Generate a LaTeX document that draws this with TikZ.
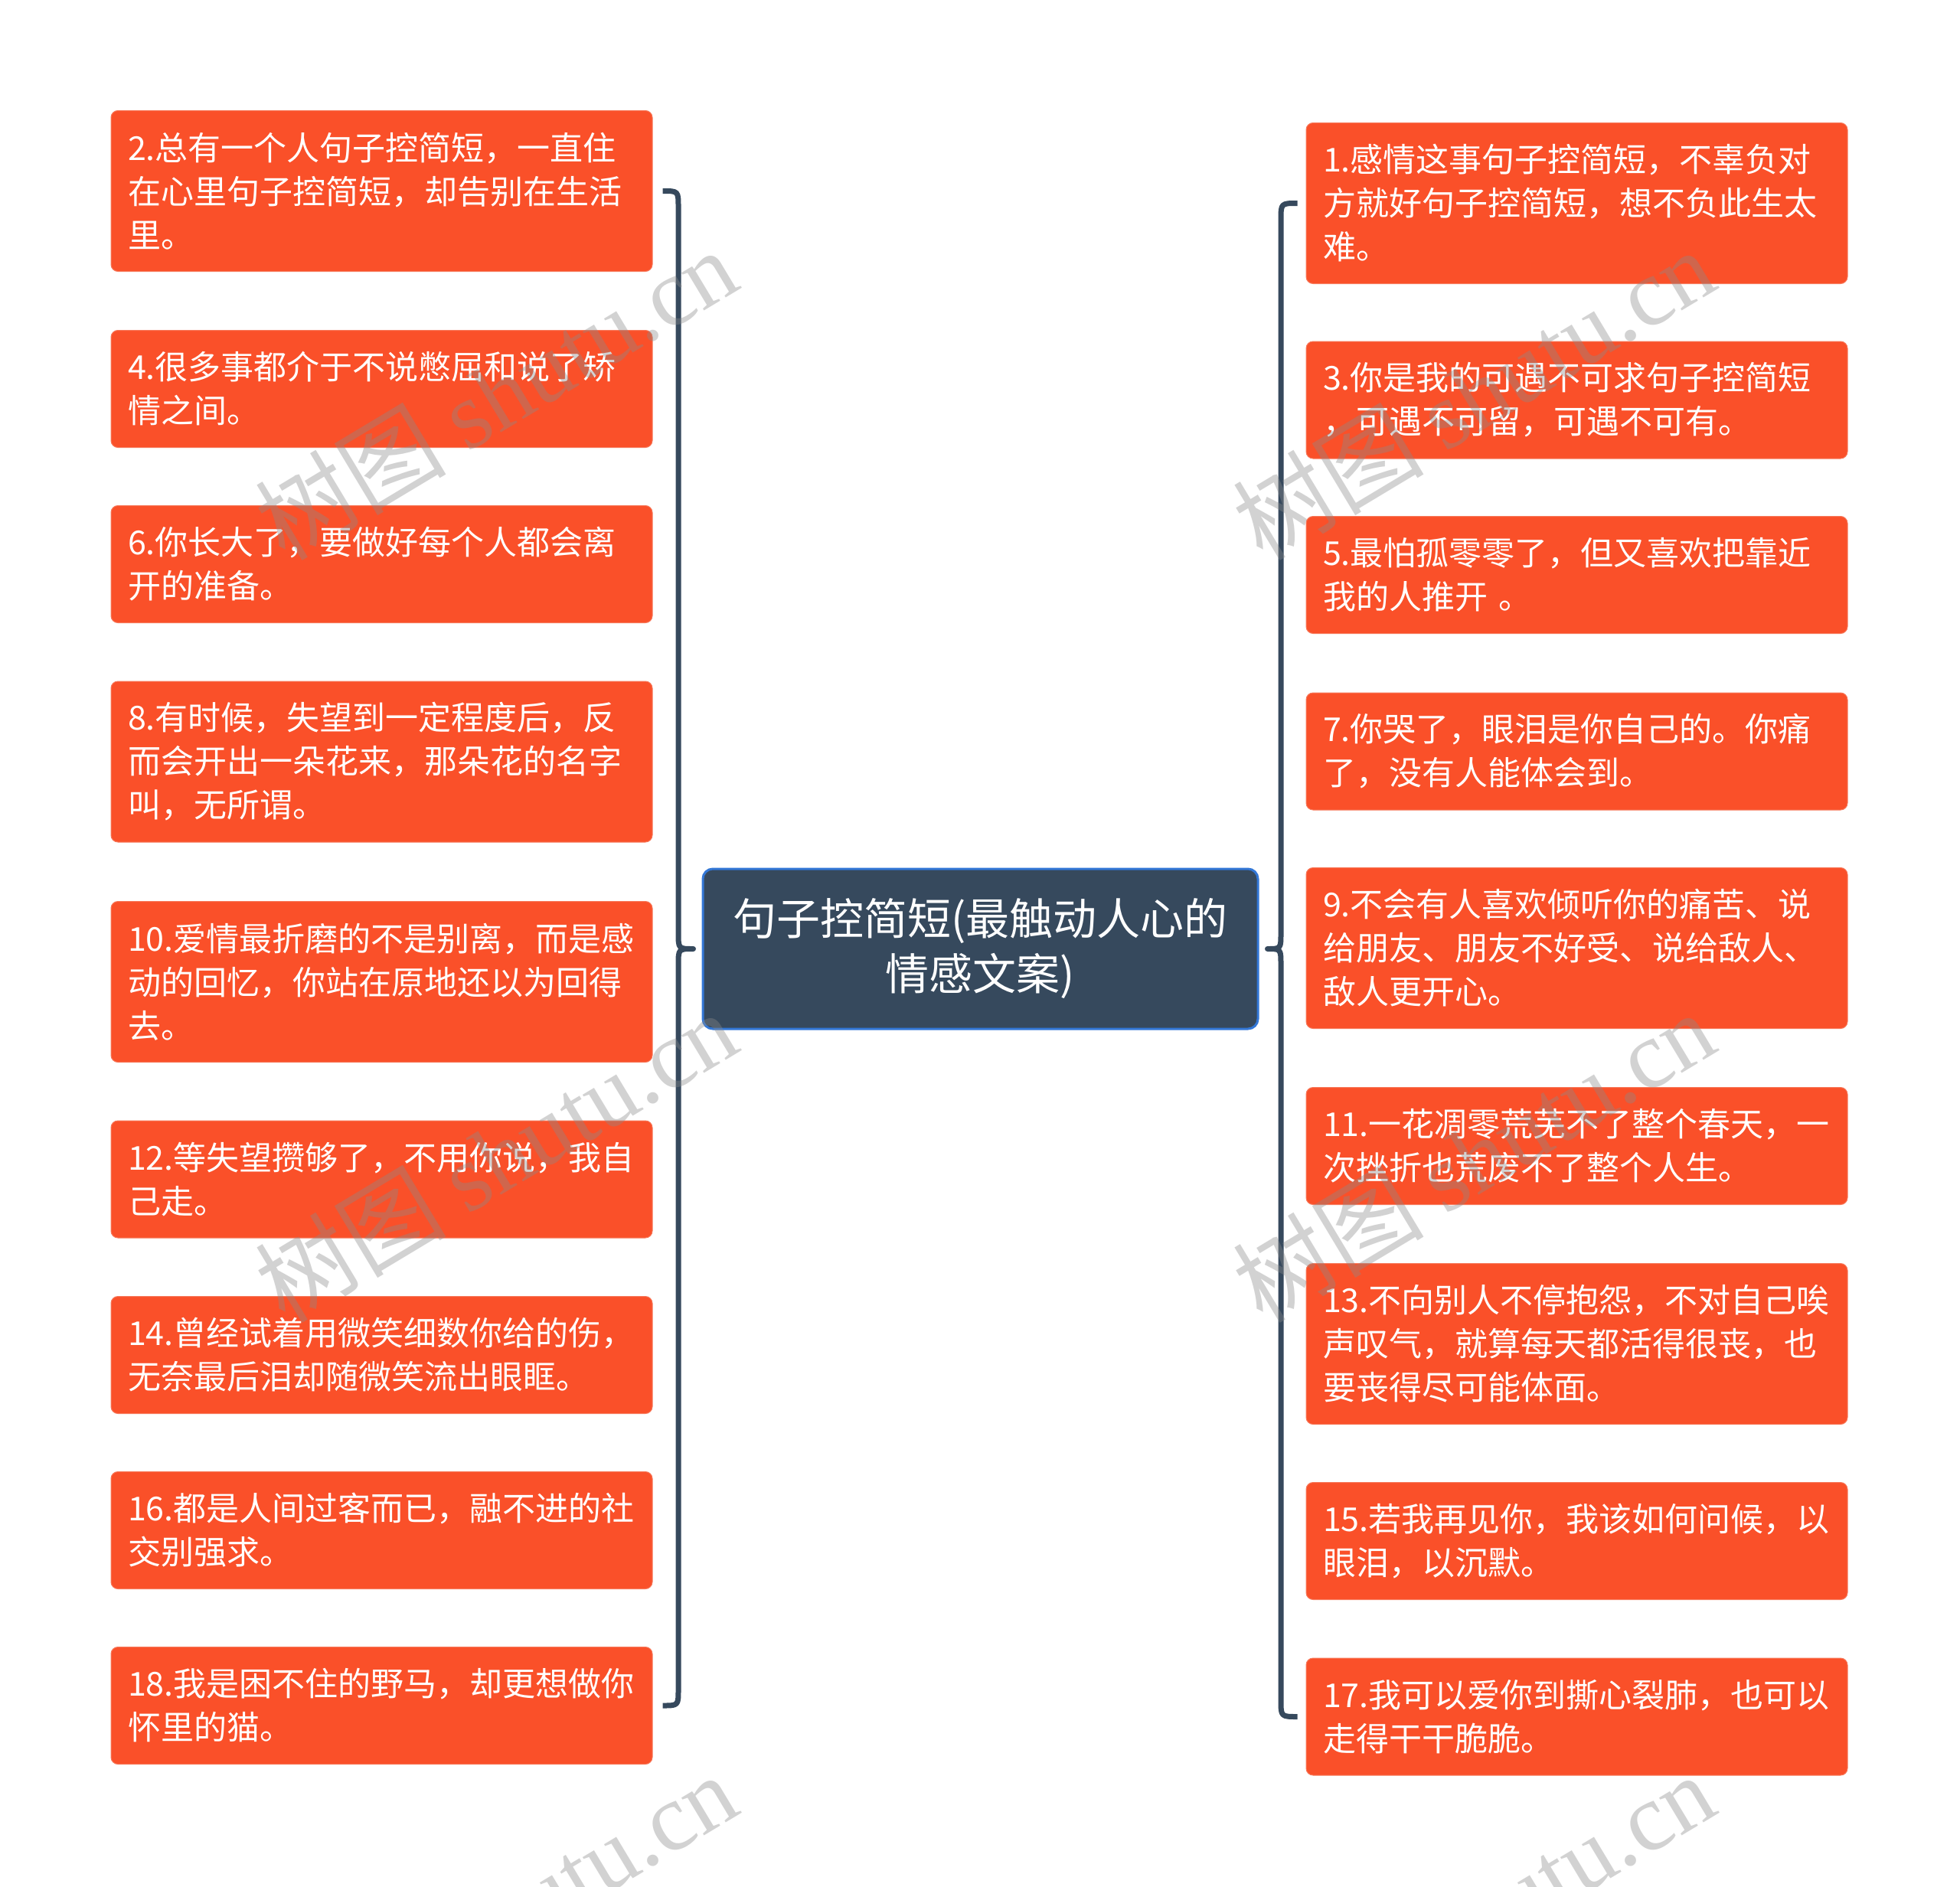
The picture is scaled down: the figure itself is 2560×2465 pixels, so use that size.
\documentclass[tikz,border=0pt]{standalone}
\usepackage{fontspec}
\setmainfont{Noto Sans CJK SC}
\newfontfamily\wmlatin{Liberation Serif}
\usetikzlibrary{calc}
\definecolor{leaffill}{HTML}{FA5029}
\definecolor{leafedge}{HTML}{F7785A}
\definecolor{rootfill}{HTML}{36495D}
\definecolor{rootedge}{HTML}{3377D6}
\definecolor{wmgray}{HTML}{8A8A8A}
\tikzset{
  leaf/.style={rectangle, rounded corners=9pt, fill=leaffill, draw=leafedge, line width=1pt,
    text=white, text width=663pt, inner xsep=22pt, inner ysep=0pt, align=left,
    font=\fontsize{43}{57}\selectfont},
  twoline/.style={leaf, minimum height=153pt},
  threeline/.style={leaf, minimum height=210pt},
  root/.style={rectangle, rounded corners=13pt, fill=rootfill, draw=rootedge, line width=3pt,
    text=white, minimum width=725pt, minimum height=209pt, inner sep=0pt, align=center,
    font=\fontsize{57}{72}\selectfont},
  brace/.style={draw=rootfill, line width=7pt, line join=round},
  wmark/.style={text=wmgray, text opacity=0.38, rotate=31, inner sep=0pt,
    font=\fontsize{125}{125}\selectfont}
}
\begin{document}
\begin{tikzpicture}[x=1pt,y=-1pt]
\useasboundingbox (0,0) rectangle (2560,2465);
\fill[white] (0,0) rectangle (2560,2465);

% root
\node[root] (root) at (1280.5,1239.5) {句子控简短(最触动人心的\\情感文案)};

% left leaves
\node[threeline] (L2)  at (498.5,249.5)  {2.总有一个人句子控简短，一直住\\在心里句子控简短，却告别在生活\\里。};
\node[twoline]   (L4)  at (498.5,508)    {4.很多事都介于不说憋屈和说了矫\\情之间。};
\node[twoline]   (L6)  at (498.5,737)    {6.你长大了，要做好每个人都会离\\开的准备。};
\node[threeline] (L8)  at (498.5,995)    {8.有时候，失望到一定程度后，反\\而会开出一朵花来，那朵花的名字\\叫，无所谓。};
\node[threeline] (L10) at (498.5,1282.5) {10.爱情最折磨的不是别离，而是感\\动的回忆，你站在原地还以为回得\\去。};
\node[twoline]   (L12) at (498.5,1540.5) {12.等失望攒够了，不用你说，我自\\己走。};
\node[twoline]   (L14) at (498.5,1770)   {14.曾经试着用微笑细数你给的伤，\\无奈最后泪却随微笑流出眼眶。};
\node[twoline]   (L16) at (498.5,1999)   {16.都是人间过客而已，融不进的社\\交别强求。};
\node[twoline]   (L18) at (498.5,2228)   {18.我是困不住的野马，却更想做你\\怀里的猫。};

% right leaves
\node[threeline] (R1)  at (2059.5,265.5)  {1.感情这事句子控简短，不辜负对\\方就好句子控简短，想不负此生太\\难。};
\node[twoline]   (R3)  at (2059.5,522.5)  {3.你是我的可遇不可求句子控简短\\，可遇不可留，可遇不可有。};
\node[twoline]   (R5)  at (2059.5,751)    {5.最怕孤零零了，但又喜欢把靠近\\我的人推开 。};
\node[twoline]   (R7)  at (2059.5,981.5)  {7.你哭了，眼泪是你自己的。你痛\\了，没有人能体会到。};
\node[threeline] (R9)  at (2059.5,1238.5) {9.不会有人喜欢倾听你的痛苦、说\\给朋友、朋友不好受、说给敌人、\\敌人更开心。};
\node[twoline]   (R11) at (2059.5,1497)   {11.一花凋零荒芜不了整个春天，一\\次挫折也荒废不了整个人生。};
\node[threeline] (R13) at (2059.5,1755.5) {13.不向别人不停抱怨，不对自己唉\\声叹气，就算每天都活得很丧，也\\要丧得尽可能体面。};
\node[twoline]   (R15) at (2059.5,2013)   {15.若我再见你，我该如何问候，以\\眼泪，以沉默。};
\node[twoline]   (R17) at (2059.5,2242.5) {17.我可以爱你到撕心裂肺，也可以\\走得干干脆脆。};

% bracket end points
\coordinate (lTop) at ($(L2.east)+(13,0)$);
\coordinate (lBot) at ($(L18.east)+(13,0)$);
\coordinate (lTip) at ($(root.west)+(-11,0)$);
\coordinate (lx) at (886,0);
\coordinate (rTop) at ($(R1.west)+(-11,0)$);
\coordinate (rBot) at ($(R17.west)+(-11,0)$);
\coordinate (rTip) at ($(root.east)+(11,0)$);
\coordinate (rx) at (1673,0);

% left bracket
\draw[brace] (lTop) .. controls (lTop -| lx) .. ($(lTop -| lx)+(0,21)$)
  -- ($(lTip -| lx)+(0,-21)$) .. controls (lTip -| lx) .. (lTip)
  .. controls (lTip -| lx) .. ($(lTip -| lx)+(0,21)$)
  -- ($(lBot -| lx)+(0,-21)$) .. controls (lBot -| lx) .. (lBot);

% right bracket
\draw[brace] (rTop) .. controls (rTop -| rx) .. ($(rTop -| rx)+(0,22)$)
  -- ($(rTip -| rx)+(0,-21)$) .. controls (rTip -| rx) .. (rTip)
  .. controls (rTip -| rx) .. ($(rTip -| rx)+(0,21)$)
  -- ($(rBot -| rx)+(0,-22)$) .. controls (rBot -| rx) .. (rBot);

% watermarks
\begin{scope}
\clip (0,0) rectangle (2560,2465);
\node[wmark] (wm1) at (647,514)   {树图 {\wmlatin shutu.cn}};
\node[wmark] (wm2) at (1924,514)  {树图 {\wmlatin shutu.cn}};
\node[wmark] (wm3) at (647,1510)  {树图 {\wmlatin shutu.cn}};
\node[wmark] (wm4) at (1924,1510) {树图 {\wmlatin shutu.cn}};
\node[wmark] (wm5) at (647,2506)  {树图 {\wmlatin shutu.cn}};
\node[wmark] (wm6) at (1924,2506) {树图 {\wmlatin shutu.cn}};
\end{scope}
\end{tikzpicture}
\end{document}
